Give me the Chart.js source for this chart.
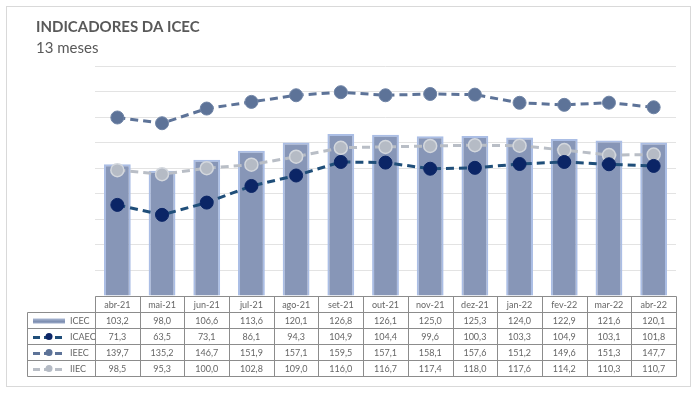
<!DOCTYPE html>
<html>
<head>
<meta charset="utf-8">
<script src="https://cdn.jsdelivr.net/npm/chart.js@4/dist/chart.umd.min.js"></script>
<style>
  html, body { margin: 0; padding: 0; background: #fff; }
  #wrap { width: 700px; height: 396px; }
</style>
</head>
<body>
<div id="wrap"><canvas id="icecChart" width="700" height="396"></canvas></div>
<script>
// data
const months = ['abr-21', 'mai-21', 'jun-21', 'jul-21', 'ago-21', 'set-21', 'out-21', 'nov-21', 'dez-21', 'jan-22', 'fev-22', 'mar-22', 'abr-22'];
const icec  = [103.2, 98.0, 106.6, 113.6, 120.1, 126.8, 126.1, 125.0, 125.3, 124.0, 122.9, 121.6, 120.1];
const icaec = [71.3, 63.5, 73.1, 86.1, 94.3, 104.9, 104.4, 99.6, 100.3, 103.3, 104.9, 103.1, 101.8];
const ieec  = [139.7, 135.2, 146.7, 151.9, 157.1, 159.5, 157.1, 158.1, 157.6, 151.2, 149.6, 151.3, 147.7];
const iiec  = [98.5, 95.3, 100.0, 102.8, 109.0, 116.0, 116.7, 117.4, 118.0, 117.6, 114.2, 110.3, 110.7];

const titleText = 'INDICADORES DA ICEC';
const subtitleText = '13 meses';

const fontFam = 'Lato, "Open Sans", sans-serif';
const fmt = v => v.toFixed(1).replace('.', ',');

// frame, title and the data table are drawn around the chart area
const tablePlugin = {
  id: 'dataTable',
  beforeDraw(chart) {
    const ctx = chart.ctx;
    ctx.save();
    ctx.fillStyle = '#fff';
    ctx.fillRect(0, 0, chart.width, chart.height);
    ctx.strokeStyle = '#d9d9d9';
    ctx.lineWidth = 1;
    ctx.strokeRect(6.5, 6.5, 684, 380);
    ctx.fillStyle = '#595959';
    ctx.textBaseline = 'middle';
    ctx.font = 'bold 15px ' + fontFam;
    ctx.fillText(titleText, 36, 27);
    ctx.font = '15px ' + fontFam;
    ctx.fillText(subtitleText, 36, 48);
    ctx.restore();
  },
  afterDraw(chart) {
    const ctx = chart.ctx;
    const area = chart.chartArea;
    const x = chart.scales.x;
    const top = Math.round(area.bottom) + 0.5;
    const rowH = 16;
    const left = 27.5, colStart = Math.round(area.left) + 0.5, right = Math.round(area.right) + 0.5;
    const colW = (area.right - area.left) / months.length;
    const rows = chart.data.datasets;
    ctx.save();
    ctx.strokeStyle = '#8c8c8c';
    ctx.lineWidth = 1;
    ctx.beginPath();
    // header row
    ctx.moveTo(colStart, top); ctx.lineTo(right, top);
    for (let r = 1; r <= rows.length + 1; r++) {
      ctx.moveTo(left, top + r * rowH); ctx.lineTo(right, top + r * rowH);
    }
    ctx.moveTo(left, top + rowH); ctx.lineTo(left, top + (rows.length + 1) * rowH);
    for (let i = 0; i <= months.length; i++) {
      const cx = Math.round(area.left + i * colW) + 0.5;
      ctx.moveTo(cx, top); ctx.lineTo(cx, top + (rows.length + 1) * rowH);
    }
    ctx.stroke();

    ctx.font = '9px ' + fontFam;
    ctx.fillStyle = '#666';
    ctx.textAlign = 'center';
    ctx.textBaseline = 'middle';
    months.forEach((m, i) => ctx.fillText(m, x.getPixelForValue(i), top + rowH / 2 + 1));

    rows.forEach((ds, r) => {
      const cy = top + (r + 1) * rowH + rowH / 2 + 1;
      ds.data.forEach((v, i) => {
        ctx.fillStyle = '#666';
        ctx.textAlign = 'center';
        ctx.fillText(fmt(v), x.getPixelForValue(i), cy);
      });
      // legend key
      if (ds.type === 'bar') {
        const g = ctx.createLinearGradient(0, cy - 3, 0, cy + 3);
        g.addColorStop(0, '#a9b7d3');
        g.addColorStop(0.5, '#7f90b2');
        g.addColorStop(1, '#a9b7d3');
        ctx.fillStyle = g;
        ctx.fillRect(33, cy - 3, 32, 5);
      } else {
        ctx.strokeStyle = ds.borderColor;
        ctx.lineWidth = 3;
        ctx.setLineDash([7, 4]);
        ctx.beginPath();
        ctx.moveTo(33, cy); ctx.lineTo(66, cy);
        ctx.stroke();
        ctx.setLineDash([]);
        ctx.fillStyle = ds.pointBackgroundColor;
        ctx.beginPath();
        ctx.arc(49, cy - 1, 3.5, 0, Math.PI * 2);
        ctx.fill();
      }
      ctx.fillStyle = '#666';
      ctx.textAlign = 'left';
      ctx.fillText(ds.label, 70, cy);
    });
    ctx.restore();
  }
};

new Chart(document.getElementById('icecChart'), {
  data: {
    labels: months,
    datasets: [
      {
        type: 'bar', label: 'ICEC', data: icec, order: 10,
        backgroundColor: '#8796b7', borderColor: '#abbee5', borderWidth: 2,
        barPercentage: 0.6, categoryPercentage: 1
      },
      {
        type: 'line', label: 'ICAEC', data: icaec, order: 2,
        borderColor: '#1f4e79', borderWidth: 3, borderDash: [8, 5],
        pointBackgroundColor: '#0b2566', pointBorderColor: '#0b2566', pointRadius: 6.5, pointBorderWidth: 1,
        tension: 0, fill: false
      },
      {
        type: 'line', label: 'IEEC', data: ieec, order: 1,
        borderColor: '#5d7398', borderWidth: 3, borderDash: [8, 5],
        pointBackgroundColor: '#5d7398', pointBorderColor: '#6f84a6', pointRadius: 6.5, pointBorderWidth: 1,
        tension: 0, fill: false
      },
      {
        type: 'line', label: 'IIEC', data: iiec, order: 3,
        borderColor: '#b9bec6', borderWidth: 3, borderDash: [8, 5],
        pointBackgroundColor: '#b5bbc5', pointBorderColor: '#d3d7dd', pointRadius: 6.5, pointBorderWidth: 1.5,
        tension: 0, fill: false
      }
    ]
  },
  options: {
    responsive: false,
    devicePixelRatio: 1,
    animation: false,
    layout: { padding: { left: 95, right: 24, top: 66, bottom: 100 } },
    plugins: { legend: { display: false }, title: { display: false }, tooltip: { enabled: false } },
    scales: {
      x: { display: false },
      y: {
        min: 0, max: 180,
        ticks: { display: false, stepSize: 20 },
        border: { display: false },
        grid: { color: '#e3e3e3', drawTicks: false, tickLength: 0 }
      }
    }
  },
  plugins: [tablePlugin]
});
</script>
</body>
</html>
